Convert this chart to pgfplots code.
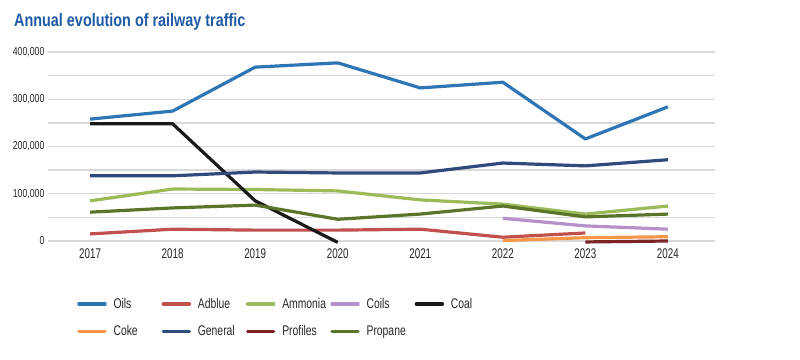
\documentclass[border=0pt]{standalone}
\usepackage{fontspec}
\setmainfont{Liberation Sans}[FakeStretch=0.76]
\newfontfamily\xfont{Liberation Sans}[FakeStretch=0.7]
\newfontfamily\legfont{Liberation Sans}[FakeStretch=0.74]
\newfontfamily\titlefont{Liberation Sans}[FakeStretch=0.8]
\usepackage{pgfplots}
\pgfplotsset{compat=1.18}
\definecolor{cOils}{HTML}{2E75B6}
\definecolor{cAdblue}{HTML}{C0504D}
\definecolor{cAmmonia}{HTML}{9BBB59}
\definecolor{cCoils}{HTML}{B491C8}
\definecolor{cCoal}{HTML}{1A1A1A}
\definecolor{cCoke}{HTML}{F79646}
\definecolor{cGeneral}{HTML}{2F4B7C}
\definecolor{cProfiles}{HTML}{7B2326}
\definecolor{cPropane}{HTML}{5A7429}
\definecolor{cTitle}{HTML}{1F5AA6}
\definecolor{cGrid}{HTML}{D9D9D9}
\begin{document}
\begin{tikzpicture}[x=1pt,y=1pt]
\begin{axis}[
  scale only axis, width=667pt, height=189pt,
  xmin=2016.49, xmax=2024.57, ymin=0, ymax=400000,
  xtick={2017,...,2024},
  ytick={0,100000,...,400000},
  minor ytick={50000,150000,250000,350000},
  ymajorgrids, yminorgrids,
  major grid style={cGrid, line width=1.3pt},
  minor grid style={cGrid, line width=1.3pt},
  axis line style={draw=none},
  major tick length=0pt, minor tick length=0pt,
  x tick label style={/pgf/number format/1000 sep={}, yshift=-4pt, font=\xfont\fontsize{14}{16}\selectfont},
  y tick label style={/pgf/number format/fixed, /pgf/number format/1000 sep={,}, font=\fontsize{11.5}{13}\selectfont},
  /pgf/number format/assume math mode=true,
  scaled y ticks=false,
  tick label style={text=black!85},
  every axis plot/.append style={line width=3.2pt, line join=round, mark=none},
  clip=false,
  legend columns=5,
  legend style={at={(0.039,-0.28)}, anchor=north west, draw=none, fill=none,
    font=\legfont\fontsize{14}{16}\selectfont, row sep=12pt,
    nodes={text width=46pt, align=left, inner sep=2pt, text=black!85}},
  legend cell align=left,
  legend image code/.code={\draw[#1, line width=3.5pt, line cap=round] (0pt,0pt) -- (26pt,0pt);\path (31pt,0pt);},
]
\addplot[cOils] coordinates {(2017,258000)(2018,275000)(2019,368000)(2020,377000)(2021,324000)(2022,336000)(2023,216000)(2024,284000)};
\addlegendentry{Oils}
\addplot[cAdblue] coordinates {(2017,15000)(2018,25000)(2019,23000)(2020,23000)(2021,25000)(2022,8000)(2023,17000)};
\addlegendentry{Adblue}
\addplot[cAmmonia] coordinates {(2017,85000)(2018,110000)(2019,109000)(2020,106000)(2021,87000)(2022,78000)(2023,57000)(2024,74000)};
\addlegendentry{Ammonia}
\addplot[cCoils] coordinates {(2022,48000)(2023,32000)(2024,25000)};
\addlegendentry{Coils}
\addplot[cCoal] coordinates {(2017,248000)(2018,248000)(2019,85000)(2020,-3000)};
\addlegendentry{Coal}
\addplot[cCoke] coordinates {(2022,1000)(2023,7000)(2024,9000)};
\addlegendentry{Coke}
\addplot[cGeneral] coordinates {(2017,138000)(2018,138000)(2019,146000)(2020,144000)(2021,144000)(2022,165000)(2023,159000)(2024,172000)};
\addlegendentry{General}
\addplot[cProfiles] coordinates {(2023,-2000)(2024,0)};
\addlegendentry{Profiles}
\addplot[cPropane] coordinates {(2017,61000)(2018,70000)(2019,76000)(2020,46000)(2021,57000)(2022,74000)(2023,51000)(2024,57000)};
\addlegendentry{Propane}
\end{axis}
\node[anchor=base west, inner sep=0pt, text=cTitle, font=\titlefont\bfseries\fontsize{18}{20}\selectfont] at ([xshift=-34pt, yshift=26pt]current axis.north west) {Annual evolution of railway traffic};
\path[use as bounding box] ([xshift=-48pt, yshift=-118pt]current axis.south west) rectangle ++(800pt,359pt);
\end{tikzpicture}
\end{document}
